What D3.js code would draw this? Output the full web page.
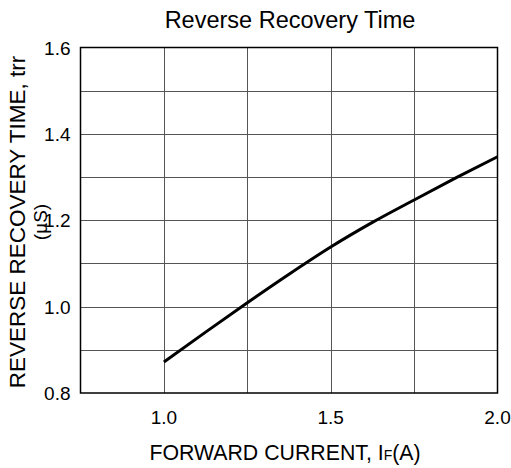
<!DOCTYPE html>
<html>
<head>
<meta charset="utf-8">
<script src="https://cdn.jsdelivr.net/npm/d3@7"></script>
<style>
  body { margin: 0; background: #fff; }
  text { font-family: "Liberation Sans", Arial, sans-serif; fill: #000; }
</style>
</head>
<body>
<svg id="chart" width="511" height="468"></svg>
<script>
// forward current IF (A) and reverse recovery time trr (uS)
const current = [1.0, 1.125, 1.25, 1.375, 1.5, 1.625, 1.75, 1.875, 2.0];
const trr = [0.872, 0.941, 1.009, 1.075, 1.138, 1.195, 1.247, 1.298, 1.347];
const xTicks = [1.0, 1.5, 2.0];
const xGrid = [1.0, 1.25, 1.5, 1.75];
const yTicks = [0.8, 1.0, 1.2, 1.4, 1.6];
const yGrid = [0.9, 1.0, 1.1, 1.2, 1.3, 1.4, 1.5];

const svg = d3.select('#chart');
const plotLeft = 80.5, plotRight = 497.5, plotTop = 47.5, plotBottom = 393;

const x = d3.scaleLinear().domain([0.75, 2.0]).range([plotLeft, plotRight]);
const y = d3.scaleLinear().domain([0.8, 1.6]).range([plotBottom, plotTop]);

// grid
svg.append('g')
    .selectAll('line')
    .data(xGrid)
    .enter()
    .append('line')
    .attr('x1', (d) => Math.round(x(d)) + 0.5)
    .attr('x2', (d) => Math.round(x(d)) + 0.5)
    .attr('y1', plotTop)
    .attr('y2', plotBottom)
    .attr('stroke', '#555')
    .attr('stroke-width', 1);

svg.append('g')
    .selectAll('line')
    .data(yGrid)
    .enter()
    .append('line')
    .attr('x1', plotLeft)
    .attr('x2', plotRight)
    .attr('y1', (d) => Math.round(y(d)) + 0.5)
    .attr('y2', (d) => Math.round(y(d)) + 0.5)
    .attr('stroke', '#555')
    .attr('stroke-width', 1);

// frame
svg.append('rect')
    .attr('x', plotLeft)
    .attr('y', plotTop)
    .attr('width', plotRight - plotLeft)
    .attr('height', plotBottom - plotTop)
    .attr('fill', 'none')
    .attr('stroke', '#000')
    .attr('stroke-width', 1.5);

// tick labels
svg.append('g')
    .selectAll('text')
    .data(yTicks)
    .enter()
    .append('text')
    .attr('x', plotLeft - 10)
    .attr('y', (d) => y(d) + 7)
    .attr('text-anchor', 'end')
    .style('font-size', '19px')
    .text((d) => d.toFixed(1));

svg.append('g')
    .selectAll('text')
    .data(xTicks)
    .enter()
    .append('text')
    .attr('x', (d) => x(d))
    .attr('y', 424)
    .attr('text-anchor', 'middle')
    .style('font-size', '19px')
    .text((d) => d.toFixed(1));

// curve
const line = d3.line()
    .x((d, i) => x(current[i]))
    .y((d) => y(d))
    .curve(d3.curveMonotoneX);

svg.append('path')
    .datum(trr)
    .attr('d', line)
    .attr('fill', 'none')
    .attr('stroke', '#000')
    .attr('stroke-width', 3);

// titles
svg.append('text')
    .attr('x', 290)
    .attr('y', 27.5)
    .attr('text-anchor', 'middle')
    .style('font-size', '23.5px')
    .text('Reverse Recovery Time');

const xt = svg.append('text')
    .attr('x', 285)
    .attr('y', 460)
    .attr('text-anchor', 'middle')
    .style('font-size', '21.3px');
xt.append('tspan').text('FORWARD CURRENT, I');
xt.append('tspan').style('font-size', '14px').text('F');
xt.append('tspan').text('(A)');

svg.append('text')
    .attr('transform', 'translate(25,222) rotate(-90)')
    .attr('text-anchor', 'middle')
    .style('font-size', '22.5px')
    .text('REVERSE RECOVERY TIME, trr');

svg.append('text')
    .attr('transform', 'translate(47,222) rotate(-90)')
    .attr('text-anchor', 'middle')
    .style('font-size', '19px')
    .text('(µS)');
</script>
</body>
</html>
